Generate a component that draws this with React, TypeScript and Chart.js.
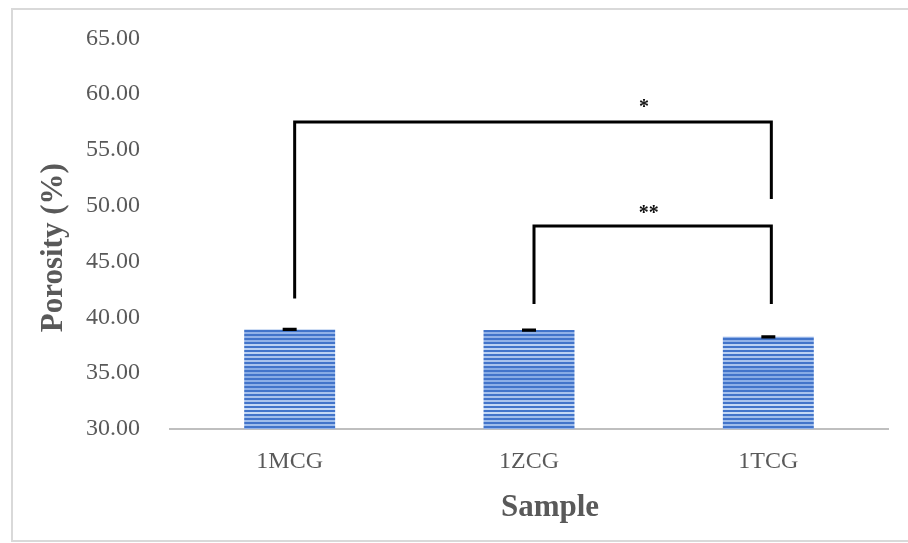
import React, { useEffect, useRef } from "react";
import { Chart, registerables } from "chart.js";

Chart.register(...registerables);

const categories = ["1MCG", "1ZCG", "1TCG"];
const porosity = [38.92, 38.86, 38.26];
const porosityError = [0.06, 0.05, 0.05];
const yMin = 30;
const yMax = 65;
const yStep = 5;

const bracketFrom = [0, 1];
const bracketTo = [2, 2];
const bracketLevel = [57.5, 48.2];
const bracketLeftEnd = [41.7, 41.2];
const bracketRightEnd = [50.6, 41.2];
const bracketLabels = ["*", "**"];
const bracketLabelPos = [1.48, 1.5];
const bracketLabelLevel = [59.1, 49.6];

const xTitle = "Sample";
const yTitle = "Porosity (%)";

const SHIFT = 6;

function makePattern(): CanvasPattern | string {
  const pc = document.createElement("canvas");
  pc.width = 4;
  pc.height = 96;
  const c = pc.getContext("2d");
  if (!c) return "#4f82d2";
  const bands = [0.25, 0.55, 0.85, 0.45, 0.3, 0.75, 0.55, 0.2];
  const dark = [66, 116, 202];
  const lo = [118, 158, 225];
  const hi = [210, 226, 247];
  for (let y = 0; y < pc.height; y++) {
    let col: number[];
    if (y % 4 < 2) {
      col = dark;
    } else {
      const f = bands[Math.floor(y / 12) % bands.length];
      col = lo.map((v, i) => Math.round(v + (hi[i] - v) * f));
    }
    c.fillStyle = `rgb(${col[0]},${col[1]},${col[2]})`;
    c.fillRect(0, y, 4, 1);
  }
  const p = c.createPattern(pc, "repeat");
  return p || "#4f82d2";
}

const decorPlugin = {
  id: "decor",
  beforeDraw(chart: any) {
    const ctx = chart.ctx;
    ctx.save();
    ctx.fillStyle = "#ffffff";
    ctx.fillRect(0, 0, chart.width, chart.height);
    ctx.strokeStyle = "#d9d9d9";
    ctx.lineWidth = 2;
    ctx.strokeRect(12, 9 + SHIFT, chart.width + 20, 532);
    ctx.restore();
  },
  afterDatasetsDraw(chart: any) {
    const ctx = chart.ctx;
    const xs = chart.scales.x;
    const ys = chart.scales.y;
    const area = chart.chartArea;
    ctx.save();
    // error bars
    ctx.strokeStyle = "#000000";
    ctx.lineWidth = 2;
    porosity.forEach((v, i) => {
      const x = xs.getPixelForValue(i);
      const top = ys.getPixelForValue(v + porosityError[i]);
      const bot = ys.getPixelForValue(v - porosityError[i]);
      ctx.beginPath();
      ctx.moveTo(x - 7, top);
      ctx.lineTo(x + 7, top);
      ctx.moveTo(x - 7, bot);
      ctx.lineTo(x + 7, bot);
      ctx.moveTo(x, top);
      ctx.lineTo(x, bot);
      ctx.stroke();
    });
    // significance brackets
    ctx.lineWidth = 3;
    ctx.lineJoin = "miter";
    bracketFrom.forEach((from, i) => {
      const x1 = xs.getPixelForValue(from) + 5;
      const x2 = xs.getPixelForValue(bracketTo[i]) + 3;
      const yl = ys.getPixelForValue(bracketLevel[i]);
      const y1 = ys.getPixelForValue(bracketLeftEnd[i]);
      const y2 = ys.getPixelForValue(bracketRightEnd[i]);
      ctx.beginPath();
      ctx.moveTo(x1, y1);
      ctx.lineTo(x1, yl);
      ctx.lineTo(x2, yl);
      ctx.lineTo(x2, y2);
      ctx.stroke();
      ctx.fillStyle = "#111111";
      ctx.font = "bold 20px 'Liberation Serif'";
      ctx.textAlign = "center";
      ctx.textBaseline = "middle";
      const lx = xs.getPixelForValue(bracketLabelPos[i]);
      const ly = ys.getPixelForValue(bracketLabelLevel[i]);
      ctx.fillText(bracketLabels[i], lx, ly + 4);
    });
    // axis titles
    ctx.fillStyle = "#595959";
    ctx.font = "bold 31px 'Liberation Serif'";
    ctx.textAlign = "center";
    ctx.textBaseline = "middle";
    ctx.fillText(xTitle, (area.left + area.right) / 2 + 21, area.bottom + 79);
    ctx.translate(area.left - 116, (area.top + area.bottom) / 2 + 14);
    ctx.rotate(-Math.PI / 2);
    ctx.fillText(yTitle, 0, 0);
    ctx.restore();
  },
};

export default function App() {
  const ref = useRef<HTMLCanvasElement | null>(null);
  useEffect(() => {
    if (!ref.current) return;
    const chart = new Chart(ref.current, {
      type: "bar",
      data: {
        labels: categories,
        datasets: [
          {
            label: "Porosity",
            data: porosity,
            backgroundColor: makePattern() as any,
            borderWidth: 0,
            categoryPercentage: 1,
            barPercentage: 0.38,
          },
        ],
      },
      options: {
        animation: false,
        responsive: true,
        maintainAspectRatio: false,
        layout: { padding: { left: 0, right: 20, top: 32, bottom: 0 } },
        plugins: {
          legend: { display: false },
          tooltip: { enabled: false },
        },
        scales: {
          x: {
            grid: { display: false, drawTicks: false },
            border: { display: true, color: "#bfbfbf", width: 2 },
            ticks: {
              color: "#595959",
              font: { family: "'Liberation Serif'", size: 24 },
              padding: 18,
            },
            afterFit: (s: any) => {
              s.height = 114;
            },
          },
          y: {
            min: yMin,
            max: yMax,
            grid: { display: false, drawTicks: false },
            border: { display: false },
            ticks: {
              stepSize: yStep,
              color: "#595959",
              font: { family: "'Liberation Serif'", size: 24 },
              padding: 30,
              callback: (v: any) => Number(v).toFixed(2),
            },
            afterFit: (s: any) => {
              s.width = 170;
            },
          },
        },
      },
      plugins: [decorPlugin],
    });
    return () => chart.destroy();
  }, []);
  return (
    <div style={{ position: "absolute", left: 0, top: -SHIFT, width: 908, height: 543 + SHIFT, overflow: "hidden" }}>
      <canvas ref={ref} />
    </div>
  );
}
